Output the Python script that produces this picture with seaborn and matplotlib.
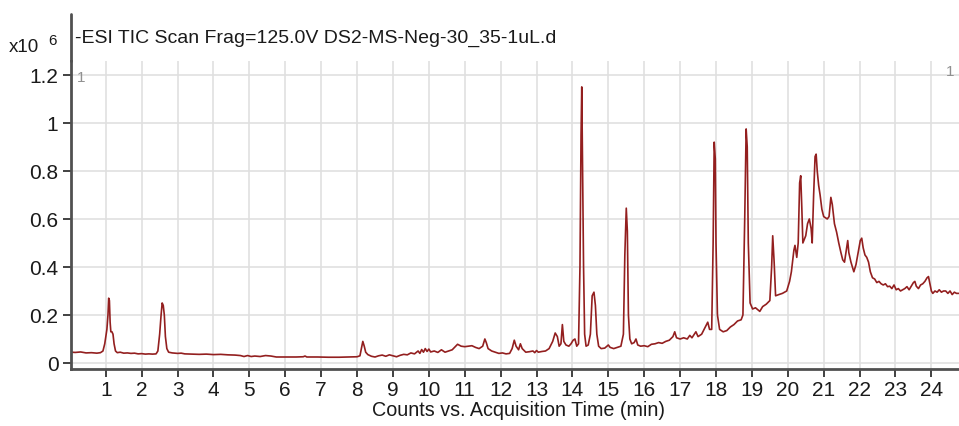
import matplotlib
matplotlib.use("Agg")
import matplotlib.pyplot as plt
import seaborn as sns
import pandas as pd
from matplotlib.lines import Line2D

# ---- data (acquisition time in min, counts in units of 1e6) ----
times = [
    0.03, 0.15, 0.30, 0.45, 0.60, 0.75, 0.85, 0.92, 0.97, 1.00, 1.03, 1.06, 1.08, 1.10, 1.12, 1.14,
    1.17, 1.20, 1.23, 1.27, 1.32, 1.40, 1.50, 1.60, 1.70, 1.80, 1.90, 2.00, 2.10, 2.20, 2.30, 2.40,
    2.45, 2.50, 2.54, 2.57, 2.60, 2.63, 2.66, 2.70, 2.75, 2.85, 3.00, 3.10, 3.20, 3.40, 3.60, 3.80,
    4.00, 4.20, 4.40, 4.60, 4.75, 4.85, 4.95, 5.05, 5.15, 5.30, 5.45, 5.60, 5.75, 6.00, 6.30, 6.50,
    6.55, 6.60, 6.90, 7.20, 7.50, 7.80, 8.00, 8.08, 8.12, 8.16, 8.20, 8.24, 8.30, 8.40, 8.50, 8.60,
    8.70, 8.80, 8.90, 9.00, 9.10, 9.20, 9.30, 9.40, 9.50, 9.60, 9.70, 9.75, 9.80, 9.85, 9.90, 9.95,
    10.00, 10.05, 10.15, 10.25, 10.35, 10.45, 10.55, 10.65, 10.75, 10.80, 10.90, 11.00, 11.10, 11.20,
    11.30, 11.40, 11.50, 11.56, 11.60, 11.65, 11.75, 11.85, 11.95, 12.05, 12.15, 12.25, 12.32, 12.38,
    12.43, 12.50, 12.55, 12.60, 12.70, 12.80, 12.90, 12.95, 13.00, 13.05, 13.15, 13.25, 13.35, 13.45,
    13.52, 13.58, 13.63, 13.68, 13.72, 13.76, 13.82, 13.90, 13.96, 14.02, 14.07, 14.12, 14.17, 14.21,
    14.24, 14.26, 14.28, 14.31, 14.34, 14.38, 14.44, 14.50, 14.55, 14.60, 14.64, 14.68, 14.73, 14.80,
    14.90, 15.00, 15.05, 15.15, 15.25, 15.35, 15.42, 15.46, 15.50, 15.53, 15.56, 15.60, 15.65, 15.72,
    15.77, 15.82, 15.90, 16.00, 16.10, 16.20, 16.30, 16.40, 16.50, 16.60, 16.70, 16.80, 16.85, 16.90,
    17.00, 17.10, 17.20, 17.27, 17.33, 17.44, 17.50, 17.60, 17.70, 17.77, 17.82, 17.88, 17.92, 17.95,
    17.98, 18.00, 18.04, 18.10, 18.20, 18.30, 18.40, 18.50, 18.60, 18.70, 18.75, 18.80, 18.84, 18.87,
    18.90, 18.95, 19.02, 19.10, 19.22, 19.30, 19.40, 19.50, 19.55, 19.58, 19.62, 19.66, 19.75, 19.85,
    19.97, 20.05, 20.10, 20.17, 20.20, 20.25, 20.29, 20.33, 20.36, 20.39, 20.42, 20.50, 20.55, 20.60,
    20.65, 20.68, 20.72, 20.76, 20.79, 20.82, 20.86, 20.90, 20.95, 21.00, 21.05, 21.10, 21.15, 21.20,
    21.24, 21.30, 21.36, 21.42, 21.48, 21.53, 21.58, 21.62, 21.67, 21.70, 21.76, 21.84, 21.90, 21.96,
    22.02, 22.06, 22.10, 22.15, 22.20, 22.25, 22.30, 22.36, 22.42, 22.48, 22.54, 22.60, 22.66, 22.72,
    22.78, 22.84, 22.90, 22.96, 23.02, 23.08, 23.14, 23.20, 23.26, 23.32, 23.38, 23.44, 23.50, 23.54,
    23.58, 23.64, 23.70, 23.76, 23.82, 23.88, 23.92, 23.96, 24.00, 24.04, 24.10, 24.16, 24.22, 24.28,
    24.34, 24.40, 24.46, 24.52, 24.58, 24.64, 24.70, 24.76,
]
counts = [
    0.045, 0.044, 0.046, 0.042, 0.043, 0.041, 0.043, 0.050, 0.080, 0.110, 0.140, 0.200, 0.270, 0.260, 0.170, 0.130,
    0.130, 0.120, 0.080, 0.050, 0.043, 0.045, 0.041, 0.042, 0.040, 0.041, 0.038, 0.039, 0.037, 0.038, 0.037, 0.038,
    0.050, 0.120, 0.200, 0.250, 0.240, 0.200, 0.110, 0.060, 0.045, 0.042, 0.040, 0.041, 0.038, 0.037, 0.036, 0.037,
    0.035, 0.036, 0.034, 0.033, 0.031, 0.027, 0.031, 0.027, 0.029, 0.027, 0.031, 0.029, 0.025, 0.025, 0.025, 0.026,
    0.029, 0.025, 0.025, 0.024, 0.024, 0.025, 0.026, 0.030, 0.060, 0.090, 0.070, 0.045, 0.035, 0.028, 0.025, 0.030,
    0.033, 0.028, 0.034, 0.030, 0.026, 0.032, 0.036, 0.034, 0.042, 0.038, 0.050, 0.040, 0.056, 0.045, 0.060, 0.048,
    0.058, 0.046, 0.050, 0.044, 0.055, 0.045, 0.050, 0.055, 0.070, 0.078, 0.070, 0.068, 0.070, 0.072,
    0.065, 0.060, 0.070, 0.100, 0.085, 0.060, 0.050, 0.045, 0.040, 0.042, 0.038, 0.040, 0.060, 0.095,
    0.070, 0.055, 0.080, 0.060, 0.045, 0.047, 0.050, 0.043, 0.052, 0.045, 0.048, 0.050, 0.060, 0.090,
    0.125, 0.110, 0.070, 0.080, 0.160, 0.090, 0.075, 0.070, 0.080, 0.095, 0.100, 0.070, 0.080, 0.400,
    0.950, 1.150, 0.850, 0.400, 0.120, 0.070, 0.075, 0.120, 0.280, 0.295, 0.240, 0.120, 0.070, 0.060,
    0.062, 0.075, 0.065, 0.060, 0.065, 0.070, 0.120, 0.450, 0.645, 0.550, 0.200, 0.100, 0.080, 0.085,
    0.100, 0.075, 0.070, 0.072, 0.068, 0.078, 0.080, 0.085, 0.082, 0.090, 0.095, 0.110, 0.130, 0.105,
    0.100, 0.105, 0.100, 0.115, 0.105, 0.130, 0.110, 0.120, 0.150, 0.170, 0.140, 0.140, 0.500, 0.920,
    0.850, 0.500, 0.200, 0.140, 0.130, 0.135, 0.150, 0.160, 0.175, 0.180, 0.200, 0.600, 0.975, 0.900,
    0.500, 0.250, 0.225, 0.230, 0.215, 0.235, 0.245, 0.260, 0.400, 0.530, 0.420, 0.280, 0.285, 0.290,
    0.300, 0.340, 0.380, 0.470, 0.490, 0.440, 0.500, 0.750, 0.780, 0.650, 0.500, 0.530, 0.580, 0.600,
    0.560, 0.500, 0.700, 0.860, 0.870, 0.800, 0.740, 0.700, 0.640, 0.610, 0.605, 0.600, 0.610, 0.690,
    0.660, 0.580, 0.545, 0.500, 0.460, 0.430, 0.420, 0.460, 0.510, 0.460, 0.420, 0.380, 0.410, 0.460,
    0.510, 0.520, 0.480, 0.450, 0.440, 0.420, 0.380, 0.355, 0.350, 0.335, 0.340, 0.330, 0.325, 0.330,
    0.318, 0.320, 0.310, 0.325, 0.305, 0.310, 0.300, 0.305, 0.310, 0.318, 0.305, 0.320, 0.335, 0.340,
    0.320, 0.310, 0.325, 0.330, 0.340, 0.355, 0.360, 0.330, 0.300, 0.290, 0.300, 0.295, 0.305, 0.295,
    0.300, 0.300, 0.290, 0.300, 0.285, 0.295, 0.290, 0.290,
]
x_ticks = list(range(1, 25))
y_ticks = [0, 0.2, 0.4, 0.6, 0.8, 1.0, 1.2]
y_tick_labels = ["0", "0.2", "0.4", "0.6", "0.8", "1", "1.2"]
title_text = "-ESI TIC Scan Frag=125.0V DS2-MS-Neg-30_35-1uL.d"
x_label = "Counts vs. Acquisition Time (min)"

df = pd.DataFrame({"time": times, "counts": counts})

sns.set_style("white")
plt.rcParams["font.family"] = ["Liberation Sans", "DejaVu Sans"]

W, H = 959, 427
fig = plt.figure(figsize=(W / 100, H / 100), dpi=100)
ax = fig.add_axes([71 / W, 1 - 370 / H, 1 - 71 / W, (370 - 62) / H])

sns.lineplot(data=df, x="time", y="counts", ax=ax, color="#931f1f",
             linewidth=1.2, sort=False, estimator=None)

ax.set_xlim(0.03, 24.77)
ax.set_ylim(-0.025, 1.258)
ax.set_xticks(x_ticks)
ax.set_xticklabels([str(t) for t in x_ticks])
ax.set_yticks(y_ticks)
ax.set_yticklabels(y_tick_labels)
ax.grid(True, color="#e0e0e0", linewidth=1.2)
ax.set_axisbelow(True)

for s in ["top", "right"]:
    ax.spines[s].set_visible(False)
for s in ["left", "bottom"]:
    ax.spines[s].set_color("#505050")
    ax.spines[s].set_linewidth(2.0)

ax.tick_params(axis="both", which="both", direction="out", length=6, width=1.3,
               color="#333333", labelsize=15, labelcolor="#1a1a1a", pad=3)
ax.tick_params(axis="x", bottom=True, pad=2)
ax.tick_params(axis="y", left=True)
ax.set_xlabel("")
ax.set_ylabel("")

fig.text(518 / W, 1 - 411 / H, x_label, ha="center", va="center",
         fontsize=14.2, color="#1a1a1a")
fig.text(75 / W, 1 - 38 / H, title_text, ha="left", va="center",
         fontsize=14, color="#1a1a1a")
fig.text(9 / W, 1 - 47 / H, "x10", ha="left", va="center",
         fontsize=13.5, color="#1a1a1a")
fig.text(48 / W, 1 - 41 / H, "6", ha="left", va="center",
         fontsize=11, color="#1a1a1a")
fig.text(77 / W, 1 - 78 / H, "1", ha="left", va="center",
         fontsize=11, color="#909090")
fig.text(946 / W, 1 - 72 / H, "1", ha="left", va="center",
         fontsize=11, color="#909090")

fig.add_artist(Line2D([71 / W, 71 / W], [1 - 15 / H, 1 - 62 / H],
                      color="#505050", linewidth=2.0, transform=fig.transFigure))

fig.savefig("out.png", dpi=100)
